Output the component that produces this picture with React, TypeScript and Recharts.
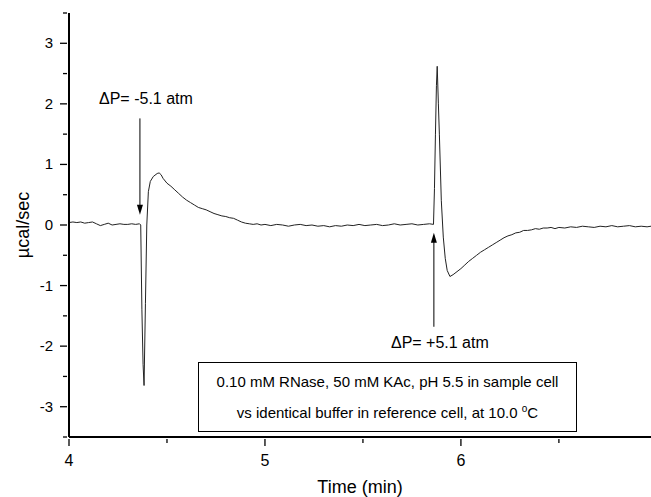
import { Line, LineChart, ReferenceLine, XAxis, YAxis } from 'recharts'

const time = [
  4.0, 4.02, 4.04, 4.06, 4.08, 4.1, 4.12, 4.14, 4.16, 4.18, 4.2, 4.22, 4.24, 4.26, 4.28, 4.3, 4.32, 4.34, 4.36,
  4.366, 4.372, 4.378, 4.383, 4.39, 4.397, 4.405, 4.415, 4.43, 4.45, 4.46, 4.47, 4.48, 4.5, 4.52, 4.54, 4.56, 4.58,
  4.6, 4.62, 4.64, 4.66, 4.68, 4.7, 4.72, 4.74, 4.76, 4.78, 4.8, 4.82, 4.84, 4.86, 4.88, 4.9, 4.92, 4.94, 4.96,
  4.98, 5.0, 5.03, 5.06, 5.09, 5.12, 5.15, 5.18, 5.21, 5.24, 5.27, 5.3, 5.33, 5.36, 5.39, 5.42, 5.45, 5.48,
  5.51, 5.54, 5.57, 5.6, 5.63, 5.66, 5.69, 5.72, 5.75, 5.78, 5.81, 5.84, 5.86, 5.865, 5.87, 5.875, 5.879,
  5.885, 5.89, 5.9, 5.91, 5.92, 5.93, 5.944, 5.96, 5.98, 6.0, 6.02, 6.04, 6.06, 6.08, 6.1, 6.12, 6.14, 6.16,
  6.18, 6.2, 6.22, 6.24, 6.26, 6.28, 6.3, 6.32, 6.34, 6.36, 6.38, 6.4, 6.42, 6.44, 6.46, 6.48, 6.5, 6.53,
  6.56, 6.59, 6.62, 6.65, 6.68, 6.71, 6.74, 6.77, 6.8, 6.83, 6.86, 6.89, 6.92, 6.95, 6.97,
]

const heat = [
  0.04, 0.05, 0.04, 0.05, 0.03, 0.04, 0.05, 0.02, -0.01, 0.01, 0.03, 0.0, 0.01, 0.02, 0.01, 0.01, 0.02, 0.01, 0.02,
  0.0, -1.4, -2.3, -2.65, -1.3, 0.0, 0.55, 0.72, 0.8, 0.85, 0.86, 0.83, 0.77, 0.69, 0.64, 0.58, 0.52, 0.46,
  0.41, 0.37, 0.33, 0.29, 0.27, 0.25, 0.22, 0.19, 0.17, 0.15, 0.14, 0.12, 0.11, 0.08, 0.05, 0.03, 0.02, 0.01, 0.02,
  0.0, 0.01, -0.01, 0.01, 0.0, -0.02, 0.0, 0.01, -0.01, 0.0, -0.02, -0.01, -0.03, -0.01, -0.02, 0.0, -0.01, 0.01,
  -0.01, 0.0, 0.01, -0.01, 0.0, 0.02, 0.0, 0.01, 0.02, 0.0, 0.01, 0.02, 0.01, 0.6, 1.5, 2.3, 2.62,
  2.0, 1.5, 0.4, -0.2, -0.55, -0.75, -0.85, -0.82, -0.77, -0.72, -0.66, -0.6, -0.55, -0.5, -0.45, -0.41, -0.37, -0.33,
  -0.29, -0.25, -0.21, -0.18, -0.16, -0.13, -0.12, -0.09, -0.09, -0.08, -0.06, -0.07, -0.05, -0.05, -0.04, -0.06, -0.04, -0.05,
  -0.03, -0.04, -0.02, -0.03, -0.04, -0.02, -0.03, -0.01, -0.03, -0.02, -0.01, -0.03, -0.02, -0.03, -0.02,
]

const xTicks = [4, 4.5, 5, 5.5, 6, 6.5]
const yTicks = [-3.5, -3, -2.5, -2, -1.5, -1, -0.5, 0, 0.5, 1, 1.5, 2, 2.5, 3, 3.5]

const data = time.map((t, i) => ({ t, q: heat[i] }))

const FONT = '"Liberation Sans", Arial, sans-serif'

function XTick({ x, y, payload }: any) {
  const major = Number.isInteger(payload.value)
  return (
    <g>
      <line x1={x} x2={x} y1={y} y2={y + (major ? 7 : 4)} stroke="#000" strokeWidth={1.3} />
      {major && (
        <text x={x} y={y + 27} textAnchor="middle" fontSize={16} fill="#000" fontFamily={FONT}>
          {payload.value}
        </text>
      )}
    </g>
  )
}

function YTick({ x, y, payload }: any) {
  const major = Number.isInteger(payload.value)
  return (
    <g>
      <line x1={x} x2={x - (major ? 7 : 4)} y1={y} y2={y} stroke="#000" strokeWidth={1.3} />
      {major && (
        <text x={x - 14} y={y + 5} textAnchor="end" fontSize={15} fill="#000" fontFamily={FONT}>
          {payload.value}
        </text>
      )}
    </g>
  )
}

function arrow(label: string, labelDy: number, labelDx: number) {
  return (p: any) => {
    const { x1, y1, x2, y2 } = p
    const dir = y2 > y1 ? 1 : -1
    return (
      <g>
        <line x1={x1} y1={y1} x2={x2} y2={y2 - dir * 8} stroke="#000" strokeWidth={1} />
        <polygon
          points={`${x2},${y2} ${x2 - 3},${y2 - dir * 10} ${x2 + 3},${y2 - dir * 10}`}
          fill="#000"
        />
        <text x={x1 + labelDx} y={y1 + labelDy} textAnchor="middle" fontSize={16} fill="#000" fontFamily={FONT}>
          {label}
        </text>
      </g>
    )
  }
}

export default function App() {
  return (
    <div style={{ position: 'absolute', left: 0, top: 0, width: 651, height: 497, background: '#fff' }}>
      <LineChart width={651} height={497} data={data} margin={{ top: 13, right: 0, bottom: 0, left: 0 }}>
        <XAxis
          dataKey="t"
          type="number"
          domain={[4, 6.97]}
          ticks={xTicks}
          allowDataOverflow
          tickSize={0}
          tickLine={false}
          tick={<XTick />}
          height={60}
          axisLine={{ stroke: '#000', strokeWidth: 2 }}
          label={{ value: 'Time (min)', position: 'insideBottom', offset: 4, fontSize: 18, fill: '#000', fontFamily: FONT }}
        />
        <XAxis
          xAxisId="top"
          dataKey="t"
          type="number"
          domain={[4, 6.97]}
          orientation="top"
          height={0}
          tick={false}
          tickLine={false}
          axisLine={{ stroke: '#000', strokeWidth: 2 }}
        />
        <YAxis
          type="number"
          domain={[-3.5, 3.5]}
          ticks={yTicks}
          width={69}
          tickSize={0}
          tickLine={false}
          tick={<YTick />}
          axisLine={{ stroke: '#000', strokeWidth: 2 }}
          label={{
            content: ({ viewBox }: any) => (
              <text
                transform={`translate(${viewBox.x + 29}, ${viewBox.y + viewBox.height / 2}) rotate(-90)`}
                textAnchor="middle"
                fontSize={18}
                fill="#000"
                fontFamily={FONT}
              >
                µcal/sec
              </text>
            ),
          }}
        />
        <Line
          dataKey="q"
          type="linear"
          stroke="#222"
          strokeWidth={1}
          dot={false}
          isAnimationActive={false}
        />
        <ReferenceLine
          segment={[{ x: 4.362, y: 1.76 }, { x: 4.362, y: 0.17 }]}
          shape={arrow('ΔP= -5.1 atm', -14, 6)}
        />
        <ReferenceLine
          segment={[{ x: 5.862, y: -1.68 }, { x: 5.862, y: -0.13 }]}
          shape={arrow('ΔP= +5.1 atm', 21, 6)}
        />
      </LineChart>
      <div
        style={{
          position: 'absolute',
          left: 198,
          top: 362,
          width: 377,
          height: 63,
          border: '1px solid #000',
          background: '#fff',
          fontFamily: FONT,
          fontSize: 15,
          color: '#000',
          textAlign: 'center',
          lineHeight: '27px',
          paddingTop: 5,
          boxSizing: 'content-box',
        }}
      >
        <div>0.10 mM RNase, 50 mM KAc, pH 5.5 in sample cell</div>
        <div>
          vs identical buffer in reference cell, at 10.0 <sup style={{ fontSize: 10 }}>o</sup>C
        </div>
      </div>
    </div>
  )
}
